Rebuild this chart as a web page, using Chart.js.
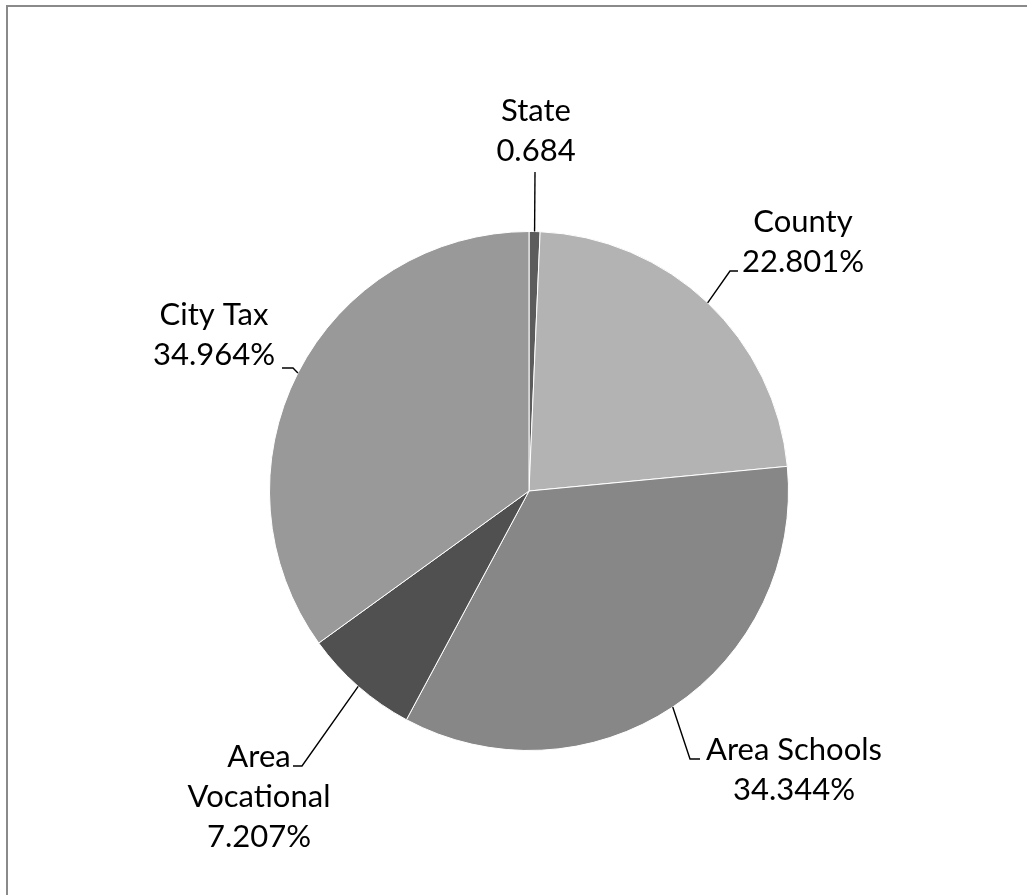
<!DOCTYPE html>
<html>
<head>
<meta charset="utf-8">
<script src="https://cdn.jsdelivr.net/npm/chart.js@4.4.1/dist/chart.umd.min.js"></script>
<style>
  html, body { margin: 0; padding: 0; background: #fff; overflow: hidden; }
  #wrap { position: relative; width: 1027px; height: 895px; }
  #frame {
    position: absolute; left: 6px; top: 5px; width: 1040px; height: 910px;
    border: 2px solid #8a8a8a; box-sizing: border-box;
  }
  canvas { position: absolute; left: 0; top: 0; }
</style>
</head>
<body>
<div id="wrap">
  <div id="frame"></div>
  <canvas id="pie" width="1027" height="895"></canvas>
</div>
<script>
// tax share by level
const categories = ['State', 'County', 'Area Schools', 'Area Vocational', 'City Tax'];
const shares = [0.684, 22.801, 34.344, 7.207, 34.964];
const shareText = ['0.684', '22.801%', '34.344%', '7.207%', '34.964%'];
const sliceColors = ['#5c5c5c', '#b3b3b3', '#878787', '#505050', '#999999'];

// label text lines (category name may wrap)
const labelLines = [
  ['State'],
  ['County'],
  ['Area Schools'],
  ['Area', 'Vocational'],
  ['City Tax']
];

// where each label sits, relative to the pie centre
// text: [centre x, first baseline y], elbow/tail: leader line bend and end
const labelLayout = [
  { text: [7, -370], elbow: null, tail: [6, -319] },
  { text: [274, -259], elbow: [201, -220], tail: [209, -220] },
  { text: [265, 269], elbow: [161, 268], tail: [171, 268] },
  { text: [-270, 276], elbow: [-227, 275], tail: [-236, 275] },
  { text: [-315, -166], elbow: [-236, -123], tail: [-247, -123] }
];

const FONT = '31px Lato, "Open Sans", sans-serif';
const LINE_H = 40;

const pieLabels = {
  id: 'pieLabels',
  afterDraw(chart) {
    const ctx = chart.ctx;
    const meta = chart.getDatasetMeta(0);
    ctx.save();
    ctx.font = FONT;
    ctx.fillStyle = '#000';
    ctx.strokeStyle = '#000';
    ctx.lineWidth = 1.4;
    ctx.textAlign = 'center';
    ctx.textBaseline = 'alphabetic';

    meta.data.forEach((arc, i) => {
      const p = arc.getProps(['x', 'y', 'startAngle', 'endAngle', 'outerRadius']);
      const mid = (p.startAngle + p.endAngle) / 2;
      const ax = p.x + Math.cos(mid) * p.outerRadius;
      const ay = p.y + Math.sin(mid) * p.outerRadius;
      const lay = labelLayout[i];

      // leader line
      ctx.beginPath();
      ctx.moveTo(ax, ay);
      if (lay.elbow) ctx.lineTo(p.x + lay.elbow[0], p.y + lay.elbow[1]);
      ctx.lineTo(p.x + lay.tail[0], p.y + lay.tail[1]);
      ctx.stroke();

      // label text
      const lines = labelLines[i].concat([shareText[i]]);
      lines.forEach((t, k) => {
        ctx.fillText(t, p.x + lay.text[0], p.y + lay.text[1] + k * LINE_H);
      });
    });
    ctx.restore();
  }
};

new Chart(document.getElementById('pie'), {
  type: 'pie',
  data: {
    labels: categories,
    datasets: [{
      data: shares,
      backgroundColor: sliceColors,
      borderColor: '#ffffff',
      borderWidth: 1
    }]
  },
  options: {
    responsive: false,
    animation: false,
    layout: { padding: { top: 231, bottom: 144, left: 269, right: 238 } },
    plugins: {
      legend: { display: false },
      tooltip: { enabled: false }
    }
  },
  plugins: [pieLabels]
});
</script>
</body>
</html>
